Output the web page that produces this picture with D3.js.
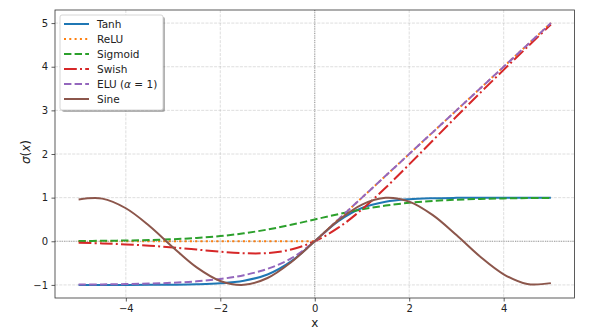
<!DOCTYPE html>
<html><head><meta charset="utf-8">
<script src="https://cdn.jsdelivr.net/npm/d3@7"></script>
<style>body{margin:0;background:#fff}svg{display:block;font-family:"DejaVu Sans",sans-serif}</style>
</head><body><svg id="c" width="601" height="333"></svg>
<script>
const xs = [-5,-4.5,-4,-3.5,-3,-2.5,-2,-1.5,-1,-0.5,0,0.5,1,1.5,2,2.5,3,3.5,4,4.5,5];
const tanhV = [-0.9999,-0.9998,-0.9993,-0.9982,-0.9951,-0.9866,-0.9640,-0.9051,-0.7616,-0.4621,0,0.4621,0.7616,0.9051,0.9640,0.9866,0.9951,0.9982,0.9993,0.9998,0.9999];
const reluV = [0,0,0,0,0,0,0,0,0,0,0,0.5,1,1.5,2,2.5,3,3.5,4,4.5,5];
const sigmoidV = [0.0067,0.0110,0.0180,0.0293,0.0474,0.0759,0.1192,0.1824,0.2689,0.3775,0.5,0.6225,0.7311,0.8176,0.8808,0.9241,0.9526,0.9707,0.9820,0.9890,0.9933];
const swishV = [-0.0335,-0.0495,-0.0719,-0.1025,-0.1423,-0.1897,-0.2384,-0.2736,-0.2689,-0.1888,0,0.3112,0.7311,1.2264,1.7616,2.3103,2.8577,3.3975,3.9281,4.4505,4.9665];
const eluV = [-0.9933,-0.9889,-0.9817,-0.9698,-0.9502,-0.9179,-0.8647,-0.7769,-0.6321,-0.3935,0,0.5,1,1.5,2,2.5,3,3.5,4,4.5,5];
const sineV = [0.9589,0.9775,0.7568,0.3508,-0.1411,-0.5985,-0.9093,-0.9975,-0.8415,-0.4794,0,0.4794,0.8415,0.9975,0.9093,0.5985,0.1411,-0.3508,-0.7568,-0.9775,-0.9589];
const xTicks = [-4,-2,0,2,4];
const yTicks = [-1,0,1,2,3,4,5];
const seriesNames = ["Tanh","ReLU","Sigmoid","Swish","ELU (α = 1)","Sine"];
const seriesValues = [tanhV, reluV, sigmoidV, swishV, eluV, sineV];

const colors = ["#1f77b4","#ff7f0e","#2ca02c","#d62728","#9467bd","#8c564b"];
const dashes = [null,"2,3.3","7.4,3.2","12.8,3.2,2,3.2","7.4,3.2",null];
const curves = [d3.curveCatmullRom, d3.curveLinear, d3.curveCatmullRom, d3.curveCatmullRom, d3.curveCatmullRom, d3.curveCatmullRom];

const svg = d3.select("#c");
const L=55, R=574.5, T=10, B=298;
const x = d3.scaleLinear().domain([-5.5,5.5]).range([L,R]);
const y = d3.scaleLinear().domain([-1.3,5.3]).range([B,T]);
const fmt = d => (d<0? "\u2212"+Math.abs(d) : ""+d);

// grid
const g = svg.append("g");
g.selectAll(".gx").data(xTicks).join("line").attr("x1",d=>x(d)).attr("x2",d=>x(d)).attr("y1",T).attr("y2",B)
 .attr("stroke","#b0b0b0").attr("stroke-width",0.8).attr("stroke-dasharray","3,1.3").attr("opacity",0.5);
g.selectAll(".gy").data(yTicks).join("line").attr("y1",d=>y(d)).attr("y2",d=>y(d)).attr("x1",L).attr("x2",R)
 .attr("stroke","#b0b0b0").attr("stroke-width",0.8).attr("stroke-dasharray","3,1.3").attr("opacity",0.5);

// zero lines
svg.append("line").attr("x1",x(0)).attr("x2",x(0)).attr("y1",T).attr("y2",B).attr("stroke","#808080").attr("stroke-width",0.8).attr("stroke-dasharray","1,1.3");
svg.append("line").attr("y1",y(0)).attr("y2",y(0)).attr("x1",L).attr("x2",R).attr("stroke","#808080").attr("stroke-width",0.8).attr("stroke-dasharray","1,1.3");

// series
const clip = svg.append("clipPath").attr("id","cp").append("rect").attr("x",L).attr("y",T).attr("width",R-L).attr("height",B-T);
seriesValues.forEach((vals,i)=>{
  const line = d3.line().x((d,j)=>x(xs[j])).y(d=>y(d)).curve(curves[i]);
  svg.append("path").attr("d",line(vals)).attr("fill","none").attr("stroke",colors[i]).attr("stroke-width",2)
   .attr("stroke-dasharray",dashes[i]).attr("clip-path","url(#cp)");
});

// axes
const xa = svg.append("g").attr("transform",`translate(0,${B})`).call(d3.axisBottom(x).tickValues(xTicks).tickFormat(fmt).tickSize(3.5).tickPadding(3.5));
const ya = svg.append("g").attr("transform",`translate(${L},0)`).call(d3.axisLeft(y).tickValues(yTicks).tickFormat(fmt).tickSize(3.5).tickPadding(3.5));
[xa,ya].forEach(a=>{a.select(".domain").remove();a.selectAll("text").attr("font-size",10).attr("fill","#222").attr("font-family","DejaVu Sans");a.selectAll("line").attr("stroke","#333").attr("stroke-width",0.8);});
svg.append("rect").attr("x",L).attr("y",T).attr("width",R-L).attr("height",B-T).attr("fill","none").attr("stroke","#333").attr("stroke-width",0.8);

// labels
svg.append("text").attr("x",(L+R)/2).attr("y",327).attr("text-anchor","middle").attr("font-size",12).attr("fill","#222").text("x");
const yl = svg.append("text").attr("transform",`translate(30,${(T+B)/2 - 2}) rotate(-90)`).attr("text-anchor","middle").attr("font-size",12).attr("fill","#222");
yl.append("tspan").attr("font-style","italic").text("σ");
yl.append("tspan").text("(");
yl.append("tspan").attr("font-style","italic").text("x");
yl.append("tspan").text(")");

// legend
const lg = svg.append("g");
lg.append("rect").attr("x",62).attr("y",17).attr("width",103).attr("height",95).attr("rx",2).attr("fill","#000").attr("opacity",0.3);
lg.append("rect").attr("x",60).attr("y",15).attr("width",103).attr("height",95).attr("rx",2).attr("fill","#fff").attr("stroke","#cccccc").attr("stroke-width",0.8);
seriesNames.forEach((n,i)=>{
  const yy = 24 + i*15;
  lg.append("line").attr("x1",64).attr("x2",89).attr("y1",yy).attr("y2",yy).attr("stroke",colors[i]).attr("stroke-width",2).attr("stroke-dasharray",dashes[i]);
  const t = lg.append("text").attr("x",97).attr("y",yy+3.8).attr("font-size",10.5).attr("fill","#222");
  if(n.indexOf("α")>=0){ t.append("tspan").text("ELU ("); t.append("tspan").attr("font-style","italic").text("α"); t.append("tspan").text(" = 1)"); }
  else t.text(n);
});
</script></body></html>
